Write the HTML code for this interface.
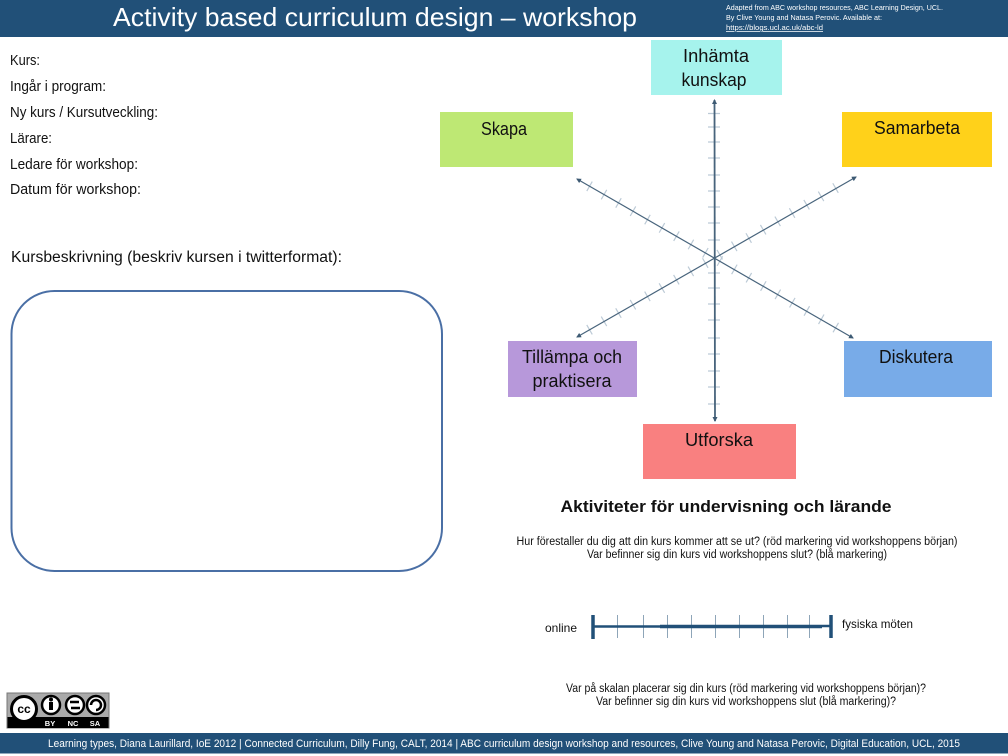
<!DOCTYPE html>
<html><head><meta charset="utf-8"><style>
html,body{margin:0;padding:0;background:#fff}
svg{display:block}
text{font-family:"Liberation Sans",sans-serif;fill:#111}
.w{fill:#fff}
</style></head><body>
<svg width="1008" height="756" viewBox="0 0 1008 756" xmlns="http://www.w3.org/2000/svg">
<defs>
<marker id="a" markerWidth="6" markerHeight="6" refX="4" refY="2.500" orient="auto-start-reverse" markerUnits="userSpaceOnUse"><path d="M0,0L5,2.500L0,5z" fill="#3d5a73"/></marker>
</defs>
<rect width="1008" height="756" fill="#fff"/>
<rect x="0" y="0" width="1008" height="37" fill="#215078"/>
<rect x="0" y="733" width="1008" height="20.500" fill="#215078"/>
<text class="w" x="113" y="26" font-size="26" textLength="524" lengthAdjust="spacingAndGlyphs">Activity based curriculum design – workshop</text>
<text class="w" x="726" y="10" font-size="7.500" textLength="217" lengthAdjust="spacingAndGlyphs">Adapted from ABC workshop resources, ABC Learning Design, UCL.</text>
<text class="w" x="726" y="20" font-size="7.500" textLength="156" lengthAdjust="spacingAndGlyphs">By Clive Young and Natasa Perovic. Available at:</text>
<text class="w" x="726" y="30" font-size="7.500" textLength="97" lengthAdjust="spacingAndGlyphs" text-decoration="underline">https://blogs.ucl.ac.uk/abc-ld</text>

<g font-size="14.500">
<text x="10" y="65" textLength="30" lengthAdjust="spacingAndGlyphs">Kurs:</text>
<text x="10" y="91" textLength="96" lengthAdjust="spacingAndGlyphs">Ingår i program:</text>
<text x="10" y="117" textLength="148" lengthAdjust="spacingAndGlyphs">Ny kurs / Kursutveckling:</text>
<text x="10" y="143" textLength="42" lengthAdjust="spacingAndGlyphs">Lärare:</text>
<text x="10" y="169" textLength="128" lengthAdjust="spacingAndGlyphs">Ledare för workshop:</text>
<text x="10" y="194" textLength="131" lengthAdjust="spacingAndGlyphs">Datum för  workshop:</text>
</g>
<text x="11" y="262" font-size="15.500" textLength="331" lengthAdjust="spacingAndGlyphs">Kursbeskrivning (beskriv kursen i twitterformat):</text>
<rect x="11.500" y="291" width="430.500" height="280" rx="43" ry="43" fill="#fff" stroke="#4a6fa5" stroke-width="2"/>

<rect x="651" y="40" width="131" height="55" fill="#a6f3ed"/>
<rect x="842" y="112" width="150" height="55" fill="#ffd11a"/>
<rect x="440" y="112" width="133" height="55" fill="#bee874"/>
<rect x="508" y="341" width="129" height="56" fill="#b798da"/>
<rect x="844" y="341" width="148" height="56" fill="#78abe8"/>
<rect x="643" y="424" width="153" height="55" fill="#f98080"/>

<g font-size="18.500" text-anchor="middle">
<text x="716" y="62" textLength="66" lengthAdjust="spacingAndGlyphs">Inhämta</text>
<text x="714" y="86" textLength="65" lengthAdjust="spacingAndGlyphs">kunskap</text>
<text x="917" y="134" textLength="86" lengthAdjust="spacingAndGlyphs">Samarbeta</text>
<text x="504" y="135" textLength="46" lengthAdjust="spacingAndGlyphs">Skapa</text>
<text x="572" y="363" textLength="100" lengthAdjust="spacingAndGlyphs">Tillämpa och</text>
<text x="572" y="387" textLength="79" lengthAdjust="spacingAndGlyphs">praktisera</text>
<text x="916" y="363" textLength="74" lengthAdjust="spacingAndGlyphs">Diskutera</text>
<text x="719" y="446" textLength="68" lengthAdjust="spacingAndGlyphs">Utforska</text>
</g>

<!-- radial tick marks -->
<g stroke="#bccad6" stroke-width="1.200" fill="none">
<path d="M708 113.500H720M708 127H720M708 142H720M708 158H720M708 175H720M708 191H720M708 207H720M708 223H720M708 240H720M708 273H720M708 288H720M708 304H720M708 320H720M708 338H720M708 354H720M708 371H720M708 387H720M708 404H720"/>
<g stroke-width="11" stroke-dasharray="1.200 15.500">
<line x1="589" y1="186" x2="840" y2="330"/>
<line x1="589" y1="330" x2="846" y2="182"/>
</g>
</g>
<g stroke="#48647c" fill="none">
<line x1="714.500" y1="100" x2="715" y2="421" stroke-width="1.800" marker-start="url(#a)" marker-end="url(#a)"/>
<line x1="577" y1="179" x2="853" y2="338" stroke-width="1.200" marker-start="url(#a)" marker-end="url(#a)"/>
<line x1="577" y1="337" x2="856" y2="177" stroke-width="1.200" marker-start="url(#a)" marker-end="url(#a)"/>
</g>

<text x="726" y="512" font-size="17" font-weight="bold" text-anchor="middle" textLength="331" lengthAdjust="spacingAndGlyphs">Aktiviteter för undervisning och lärande</text>
<g font-size="11.500" text-anchor="middle">
<text x="737" y="545" textLength="441" lengthAdjust="spacingAndGlyphs">Hur förestaller du dig att din kurs kommer att se ut? (röd markering vid workshoppens början)</text>
<text x="737" y="558" textLength="300" lengthAdjust="spacingAndGlyphs">Var befinner sig din kurs vid workshoppens slut? (blå markering)</text>
<text x="746" y="692" textLength="360" lengthAdjust="spacingAndGlyphs">Var på skalan placerar sig din kurs (röd markering vid workshoppens början)?</text>
<text x="746" y="705" textLength="300" lengthAdjust="spacingAndGlyphs">Var befinner sig din kurs vid workshoppens slut (blå markering)?</text>
</g>

<!-- scale -->
<g stroke="#8ea5b8" stroke-width="1">
<path d="M617.500 615V638M643.500 615V638M667.500 615V638M691.500 615V638M715.500 615V638M739.500 615V638M763.500 615V638M787.500 615V638M809.500 615V638"/>
</g>
<path d="M593 626.500H660" stroke="#215078" stroke-width="2.500"/>
<path d="M660 626.500H822" stroke="#215078" stroke-width="3.500"/>
<path d="M822 626H832" stroke="#215078" stroke-width="2.500"/>
<path d="M593 615V639M831 615V638" stroke="#215078" stroke-width="3.500"/>
<text x="545" y="632" font-size="12" textLength="32" lengthAdjust="spacingAndGlyphs">online</text>
<text x="842" y="628" font-size="12" textLength="71" lengthAdjust="spacingAndGlyphs">fysiska möten</text>

<!-- CC badge -->
<g>
<rect x="7" y="693" width="102" height="35" fill="#aaa" stroke="#777" stroke-width="1"/>
<rect x="7.500" y="717" width="101" height="11" fill="#000"/>
<circle cx="24" cy="709" r="12.500" fill="#fff" stroke="#000" stroke-width="3"/>
<circle cx="51" cy="705" r="9" fill="#fff" stroke="#000" stroke-width="2.500"/>
<circle cx="75" cy="705" r="9" fill="#fff" stroke="#000" stroke-width="2.500"/>
<circle cx="96" cy="705" r="9" fill="#fff" stroke="#000" stroke-width="2.500"/>
<text x="24" y="713" font-size="12" font-weight="bold" text-anchor="middle" style="fill:#000">cc</text>
<rect x="49" y="702" width="4" height="8" fill="#000"/><circle cx="51" cy="699.500" r="2" fill="#000"/>
<path d="M70 702H79M80 708H71" stroke="#000" stroke-width="2.500" fill="none"/>
<path d="M91 705a5 5 0 1 1 5 5" stroke="#000" stroke-width="2.500" fill="none"/>
<g font-size="7.500" font-weight="bold" text-anchor="middle">
<text class="w" x="50" y="726">BY</text><text class="w" x="73" y="726">NC</text><text class="w" x="95" y="726">SA</text>
</g>
</g>

<text class="w" x="48" y="747" font-size="11" textLength="912" lengthAdjust="spacingAndGlyphs">Learning types, Diana Laurillard, IoE 2012 | Connected Curriculum, Dilly Fung, CALT, 2014 | ABC curriculum design workshop and resources, Clive Young and Natasa Perovic, Digital Education, UCL, 2015</text>
</svg>
</body></html>
